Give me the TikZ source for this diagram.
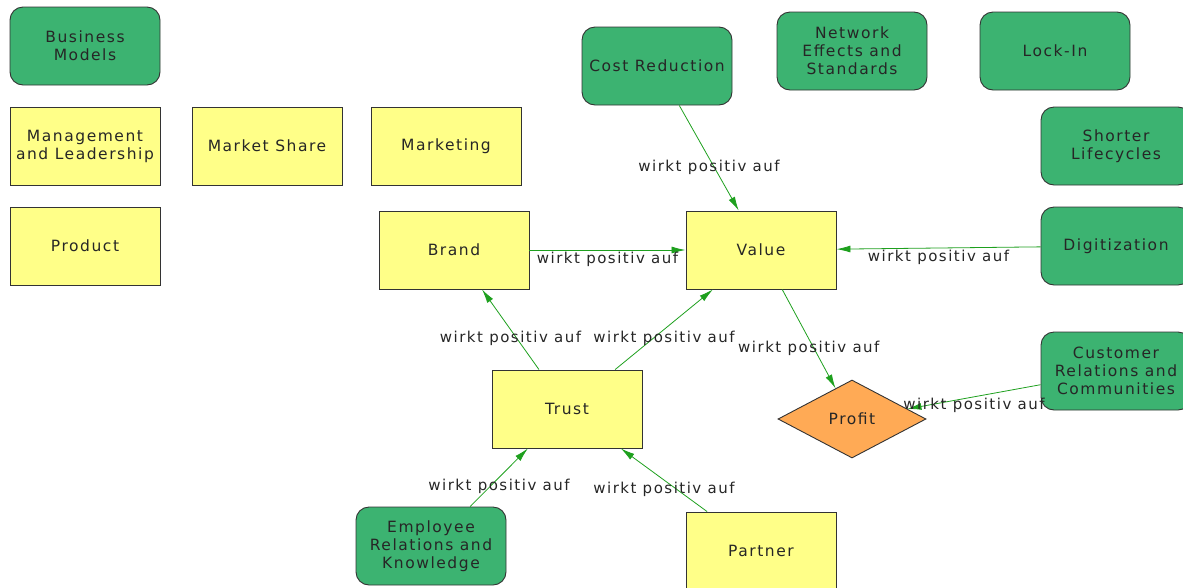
\documentclass[tikz,border=0pt]{standalone}
\usepackage{fontspec}
\setmainfont{DejaVu Sans}[LetterSpace=10]
\usepackage{tikz}
\usetikzlibrary{shapes.geometric,arrows.meta}
\definecolor{boxgreen}{HTML}{3CB371}
\definecolor{boxyellow}{HTML}{FFFF88}
\definecolor{boxorange}{HTML}{FFAA55}
\definecolor{linkgreen}{HTML}{1EA01E}
\definecolor{rimgray}{HTML}{333333}
\tikzstyle{cn}=[draw=rimgray,line width=0.9pt,minimum width=150pt,minimum height=78pt,align=center,text=black!85,font=\fontsize{15.5}{18}\selectfont,inner sep=2pt]
\tikzstyle{gn}=[cn,fill=boxgreen,rounded corners=13pt]
\tikzstyle{yn}=[cn,fill=boxyellow]
\tikzstyle{pn}=[cn,diamond,fill=boxorange,aspect=1.9,minimum width=148pt,minimum height=78pt,inner sep=0pt]
\tikzstyle{to}=[-{Latex[length=14pt,width=7pt]},draw=linkgreen,line width=0.8pt]
\tikzstyle{lbl}=[midway,yshift=-9pt,text=black!85,font=\fontsize{15}{18}\selectfont,inner sep=0pt]

\begin{document}
\begin{tikzpicture}[x=1pt,y=-1pt]
            \useasboundingbox (0,0) rectangle (1183,587);
            \node[gn] (BM) at (85, 46) {Business\\Models}
            ;
            \node[yn] (ML) at (85, 146) {Management\\and Leadership}
            ;
            \node[yn] (MS) at (267, 146) {Market Share}
            ;
            \node[yn] (MK) at (446, 146) {Marketing}
            ;
            \node[yn] (PR) at (85, 246) {Product}
            ;
            \node[gn] (NE) at (852, 51) {Network\\Effects and\\Standards}
            ;
            \node[gn] (LI) at (1055, 51) {Lock-In}
            ;
            \node[gn] (SL) at (1116, 146) {Shorter\\Lifecycles}
            ;
            \node[pn] (P) at (852, 419) {Profit}
            ;
            \node[yn] (V) at (761, 250) {Value}
                edge[to] node[lbl] {wirkt positiv auf} (P)
            ;
            \node[yn] (B) at (454, 250) {Brand}
                edge[to] node[lbl] {wirkt positiv auf} (V)
            ;
            \node[yn] (T) at (567, 409) {Trust}
                edge[to] node[lbl] {wirkt positiv auf} (B)
                edge[to] node[lbl] {wirkt positiv auf} (V)
            ;
            \node[gn] (CR) at (657, 66) {Cost Reduction}
                edge[to] node[lbl] {wirkt positiv auf} (V)
            ;
            \node[gn] (D) at (1116, 246) {Digitization}
                edge[to] node[lbl] {wirkt positiv auf} (V)
            ;
            \node[gn] (C) at (1116, 371) {Customer\\Relations and\\Communities}
                edge[to] node[lbl] {wirkt positiv auf} (P)
            ;
            \node[gn] (E) at (431, 546) {Employee\\Relations and\\Knowledge}
                edge[to] node[lbl] {wirkt positiv auf} (T)
            ;
            \node[yn] (PA) at (761, 551) {Partner}
                edge[to] node[lbl] {wirkt positiv auf} (T)
            ;
        \end{tikzpicture}
\end{document}
